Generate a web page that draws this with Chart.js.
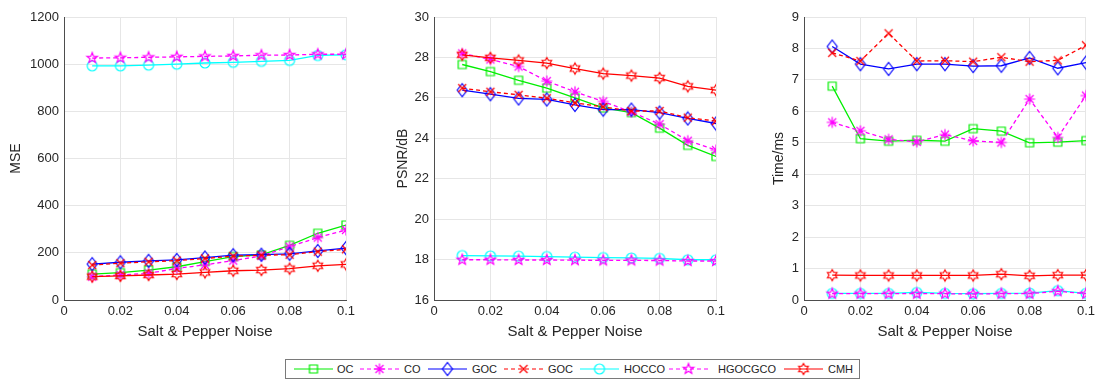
<!DOCTYPE html>
<html>
<head>
<meta charset="utf-8">
<script src="https://cdn.jsdelivr.net/npm/chart.js@4.4.1/dist/chart.umd.min.js"></script>
<style>
    body { margin: 0; background: #fff; width: 1099px; height: 379px; overflow: hidden; position: relative;
           font-family: "Liberation Sans", Arial, sans-serif; }
    canvas.panel { position: absolute; top: 0; }
    #legend { position: absolute; left: 285px; top: 359px; width: 573px; height: 18px; border: 1px solid #7a7a7a; }
    #legend canvas { position: absolute; top: 1px; }
    #legend span { position: absolute; top: 3px; font-size: 11px; color: #262626; white-space: nowrap; }
</style>
</head>
<body>
<canvas class="panel" id="msePanel"></canvas>
<canvas class="panel" id="psnrPanel"></canvas>
<canvas class="panel" id="timePanel"></canvas>
<div id="legend"></div>

<script>
// x values (salt & pepper noise density)
const noise = [0.01, 0.02, 0.03, 0.04, 0.05, 0.06, 0.07, 0.08, 0.09, 0.1];
const seriesNames = ['OC', 'CO', 'GOC', 'GOC', 'HOCCO', 'HGOCGCO', 'CMH'];

// MSE
const mseOC      = [110, 116, 127, 141, 163, 184, 191, 232, 283, 318];
const mseCO      = [99, 106, 113, 134, 149, 167, 187, 226, 265, 297];
const mseGOC     = [152, 160, 166, 170, 180, 190, 192, 196, 208, 220];
const mseGOC2    = [148, 156, 162, 167, 176, 186, 190, 192, 205, 215];
const mseHOCCO   = [993, 993, 996, 1000, 1005, 1008, 1012, 1016, 1037, 1040];
const mseHGOCGCO = [1026, 1027, 1029, 1031, 1033, 1035, 1038, 1039, 1042, 1042];
const mseCMH     = [99, 102, 106, 110, 117, 124, 127, 133, 145, 151];

// PSNR (dB)
const psnrOC      = [27.65, 27.3, 26.87, 26.48, 26.0, 25.5, 25.27, 24.5, 23.65, 23.1];
const psnrCO      = [28.2, 27.9, 27.55, 26.83, 26.3, 25.82, 25.3, 24.7, 23.88, 23.42];
const psnrGOC     = [26.38, 26.18, 25.97, 25.92, 25.65, 25.42, 25.42, 25.27, 24.98, 24.73];
const psnrGOC2    = [26.48, 26.3, 26.15, 25.98, 25.75, 25.55, 25.35, 25.35, 25.02, 24.85];
const psnrHOCCO   = [18.2, 18.18, 18.17, 18.15, 18.12, 18.1, 18.08, 18.06, 17.99, 17.99];
const psnrHGOCGCO = [17.99, 17.99, 17.98, 17.98, 17.97, 17.96, 17.96, 17.95, 17.93, 17.93];
const psnrCMH     = [28.13, 27.98, 27.85, 27.72, 27.45, 27.2, 27.1, 26.98, 26.57, 26.38];

// Time (ms)
const timeOC      = [6.8, 5.13, 5.05, 5.08, 5.05, 5.45, 5.37, 5.0, 5.02, 5.07];
const timeCO      = [5.65, 5.38, 5.11, 5.03, 5.26, 5.06, 5.01, 6.39, 5.17, 6.5];
const timeGOC     = [8.06, 7.5, 7.35, 7.5, 7.5, 7.44, 7.45, 7.7, 7.37, 7.55];
const timeGOC2    = [7.86, 7.6, 8.48, 7.6, 7.61, 7.58, 7.72, 7.58, 7.62, 8.1];
const timeHOCCO   = [0.21, 0.21, 0.21, 0.24, 0.21, 0.2, 0.21, 0.22, 0.3, 0.21];
const timeHGOCGCO = [0.2, 0.2, 0.2, 0.2, 0.2, 0.19, 0.2, 0.2, 0.28, 0.2];
const timeCMH     = [0.79, 0.78, 0.78, 0.78, 0.78, 0.78, 0.82, 0.77, 0.79, 0.79];

// series styles: color, marker, dashed
const styles = [
    { color: '#00ee00', marker: 'square',   dash: false },
    { color: '#ff00ff', marker: 'asterisk', dash: true  },
    { color: '#0000ff', marker: 'diamond',  dash: false },
    { color: '#ff0000', marker: 'x',        dash: true  },
    { color: '#00ffff', marker: 'circle',   dash: false },
    { color: '#ff00ff', marker: 'pentagram',dash: true  },
    { color: '#ff0000', marker: 'hexagram', dash: false }
];

// draw a MATLAB-like marker onto a small canvas (used as pointStyle)
function makeMarker(shape, color) {
    const c = document.createElement('canvas');
    c.width = 16; c.height = 16;
    const ctx = c.getContext('2d');
    ctx.strokeStyle = color;
    ctx.lineWidth = 1.2;
    const cx = 8, cy = 8;
    ctx.beginPath();
    if (shape === 'square') {
        ctx.rect(cx - 4, cy - 4, 8, 8);
    } else if (shape === 'circle') {
        ctx.arc(cx, cy, 5, 0, Math.PI * 2);
    } else if (shape === 'diamond') {
        ctx.moveTo(cx, cy - 6.5); ctx.lineTo(cx + 5, cy); ctx.lineTo(cx, cy + 6.5); ctx.lineTo(cx - 5, cy); ctx.closePath();
    } else if (shape === 'x') {
        ctx.moveTo(cx - 4, cy - 4); ctx.lineTo(cx + 4, cy + 4);
        ctx.moveTo(cx + 4, cy - 4); ctx.lineTo(cx - 4, cy + 4);
    } else if (shape === 'asterisk') {
        ctx.moveTo(cx, cy - 5.5); ctx.lineTo(cx, cy + 5.5);
        ctx.moveTo(cx - 5.5, cy); ctx.lineTo(cx + 5.5, cy);
        ctx.moveTo(cx - 4, cy - 4); ctx.lineTo(cx + 4, cy + 4);
        ctx.moveTo(cx + 4, cy - 4); ctx.lineTo(cx - 4, cy + 4);
    } else if (shape === 'pentagram' || shape === 'hexagram') {
        const n = shape === 'pentagram' ? 5 : 6;
        const ro = 5.5, ri = shape === 'pentagram' ? 2.3 : 3.2;
        for (let i = 0; i < n * 2; i++) {
            const r = i % 2 === 0 ? ro : ri;
            const a = -Math.PI / 2 + i * Math.PI / n;
            const px = cx + r * Math.cos(a), py = cy + r * Math.sin(a);
            if (i === 0) ctx.moveTo(px, py); else ctx.lineTo(px, py);
        }
        ctx.closePath();
    }
    ctx.stroke();
    return c;
}

const markers = styles.map(s => makeMarker(s.marker, s.color));

function buildDatasets(seriesList) {
    return seriesList.map((vals, i) => ({
        label: seriesNames[i],
        data: noise.map((x, k) => ({ x: x, y: vals[k] })),
        borderColor: styles[i].color,
        backgroundColor: styles[i].color,
        borderWidth: 1.3,
        borderDash: styles[i].dash ? [4, 3] : [],
        pointStyle: markers[i],
        pointRadius: 5,
        order: 7 - i,
        tension: 0
    }));
}

const textColor = '#262626';
const gridColor = '#e6e6e6';
const axisColor = '#4d4d4d';

function makePanel(id, left, width, seriesList, yMin, yMax, yStep, yTitle, titlePad) {
    const canvas = document.getElementById(id);
    canvas.width = width;
    canvas.height = 345;
    canvas.style.left = left + 'px';
    return new Chart(canvas, {
        type: 'line',
        data: { datasets: buildDatasets(seriesList) },
        options: {
            responsive: false,
            animation: false,
            devicePixelRatio: 1,
            layout: { padding: { top: 17, right: width - 60 - 282, bottom: 0, left: 0 } },
            plugins: { legend: { display: false }, tooltip: { enabled: false } },
            scales: {
                x: {
                    type: 'linear',
                    min: 0, max: 0.1,
                    afterFit: s => { s.height = 45; },
                    ticks: {
                        stepSize: 0.02,
                        color: textColor,
                        font: { family: 'Liberation Sans', size: 13 },
                        padding: 4,
                        maxRotation: 0,
                        callback: v => String(Number(v.toFixed(2)))
                    },
                    grid: { color: gridColor, drawTicks: false },
                    border: { color: axisColor, width: 1 },
                    title: {
                        display: true, text: 'Salt & Pepper Noise', color: textColor,
                        font: { family: 'Liberation Sans', size: 15 },
                        padding: { top: 0, bottom: 4 }
                    }
                },
                y: {
                    min: yMin, max: yMax,
                    afterFit: s => { s.width = 60; },
                    ticks: {
                        stepSize: yStep,
                        color: textColor,
                        font: { family: 'Liberation Sans', size: 13 },
                        padding: 5,
                        callback: v => String(Number(v.toFixed(2)))
                    },
                    grid: { color: gridColor, drawTicks: false },
                    border: { color: axisColor, width: 1 },
                    title: {
                        display: true, text: yTitle, color: textColor,
                        font: { family: 'Liberation Sans', size: 14 },
                        padding: { top: titlePad, bottom: 0 }
                    }
                }
            }
        }
    });
}

makePanel('msePanel', 4, 357, [mseOC, mseCO, mseGOC, mseGOC2, mseHOCCO, mseHGOCGCO, mseCMH],
    0, 1200, 200, 'MSE', 3.6);
makePanel('psnrPanel', 374, 356, [psnrOC, psnrCO, psnrGOC, psnrGOC2, psnrHOCCO, psnrHGOCGCO, psnrCMH],
    16, 30, 2, 'PSNR/dB', 20.6);
makePanel('timePanel', 744, 355, [timeOC, timeCO, timeGOC, timeGOC2, timeHOCCO, timeHGOCGCO, timeCMH],
    0, 9, 1, 'Time/ms', 26.6);

// legend (shared, below the middle panel)
const legendLineX = [8, 74, 142, 218, 294, 383, 498];
const legendTextX = [51, 118, 186, 262, 338, 432, 542];
const legend = document.getElementById('legend');
styles.forEach((s, i) => {
    const c = document.createElement('canvas');
    c.width = 39; c.height = 16;
    c.style.left = legendLineX[i] + 'px';
    const ctx = c.getContext('2d');
    ctx.strokeStyle = s.color;
    ctx.lineWidth = 1.2;
    ctx.setLineDash(s.dash ? [4, 3] : []);
    ctx.beginPath();
    ctx.moveTo(0, 8); ctx.lineTo(39, 8);
    ctx.stroke();
    ctx.setLineDash([]);
    ctx.drawImage(markers[i], 19.5 - 8, 0);
    legend.appendChild(c);
    const t = document.createElement('span');
    t.textContent = seriesNames[i];
    t.style.left = legendTextX[i] + 'px';
    legend.appendChild(t);
});
</script>
</body>
</html>
